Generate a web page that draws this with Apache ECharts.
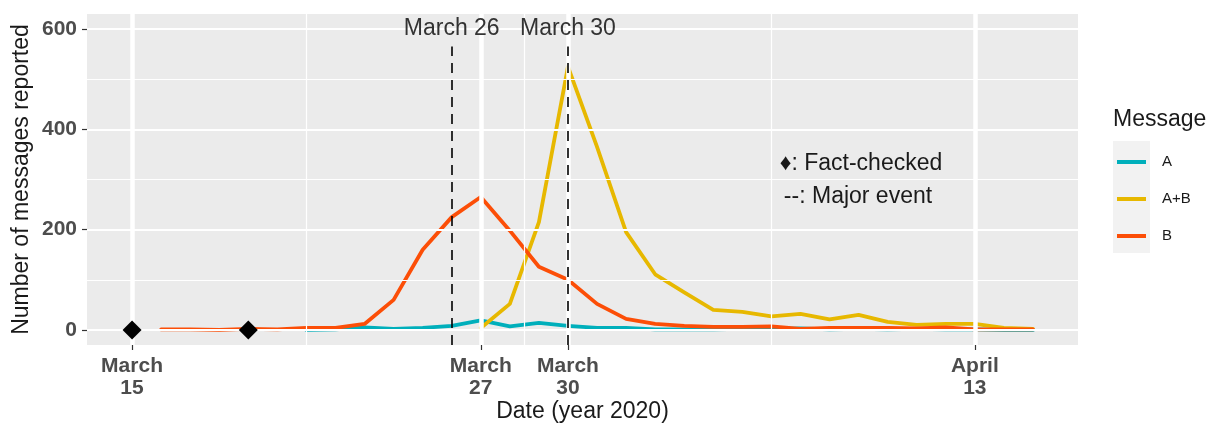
<!DOCTYPE html>
<html>
<head>
<meta charset="utf-8">
<script src="https://cdn.jsdelivr.net/npm/echarts@6/dist/echarts.min.js"></script>
<style>
  html, body { margin: 0; padding: 0; background: #ffffff; }
  #chart { width: 1214px; height: 425px; }
</style>
</head>
<body>
<div id="chart"></div>
<script>
// Days counted from March 15, 2020
const tickDays = [0, 12, 15, 29];
const tickLabels = ['March\n15', 'March\n27', 'March\n30', 'April\n13'];
const minorDays = [6, 13.5, 22];
const yTicks = [0, 200, 400, 600];
const yMinor = [100, 300, 500];

// Major events (dashed lines)
const eventDays = [11, 15];
const eventLabels = ['March 26', 'March 30'];

// Fact-check dates
const factCheckedDays = [0, 4];
const factCheckedValues = [0, 0];

// Message A
const daysA = [6, 7, 8, 9, 10, 11, 12, 13, 14, 15, 16, 17, 18, 19, 20, 21, 22, 23, 24, 25, 26, 27, 28, 29, 30, 31];
const valuesA = [0, 1, 5, 2, 4, 8, 19, 7, 14, 8, 4, 4, 1, 1, 1, 2, 2, 3, 1, 2, 1, 2, 1, 1, 0, 0];

// Message A+B
const daysAB = [12, 13, 14, 15, 16, 17, 18, 19, 20, 21, 22, 23, 24, 25, 26, 27, 28, 29, 30, 31];
const valuesAB = [4, 52, 215, 525, 365, 195, 111, 75, 40, 36, 27, 32, 21, 30, 16, 10, 12, 12, 4, 2];

// Message B
const daysB = [1, 2, 3, 4, 5, 6, 7, 8, 9, 10, 11, 12, 13, 14, 15, 16, 17, 18, 19, 20, 21, 22, 23, 24, 25, 26, 27, 28, 29, 30, 31];
const valuesB = [1, 1, 0, 2, 1, 4, 4, 12, 60, 160, 225, 265, 198, 126, 100, 52, 22, 12, 8, 6, 6, 7, 2, 4, 4, 4, 3, 5, 1, 1, 1];

const seriesNames = ['A', 'A+B', 'B'];
const seriesColors = ['#00AFBB', '#E7B800', '#FC4E07'];

const pairs = (xs, ys) => xs.map((x, i) => [x, ys[i]]);

const font = '"Liberation Sans", Arial, Helvetica, sans-serif';
const chart = echarts.init(document.getElementById('chart'), null, { renderer: 'canvas' });

function dataLine(name, color, data) {
  return {
    name: name,
    type: 'line',
    data: data,
    showSymbol: false,
    symbol: 'none',
    z: 3,
    lineStyle: { color: color, width: 3.8, cap: 'round', join: 'round' },
    itemStyle: { color: color },
    emphasis: { disabled: true },
    silent: true
  };
}

const option = {
  animation: false,
  textStyle: { fontFamily: font },
  grid: {
    left: 87, right: 136, top: 14, bottom: 80,
    containLabel: false,
    outerBoundsMode: 'none',
    show: true, backgroundColor: '#EBEBEB', borderWidth: 0
  },
  legend: {
    data: seriesNames,
    orient: 'vertical',
    left: 1117,
    top: 152,
    padding: 0,
    icon: 'rect',
    itemWidth: 29,
    itemHeight: 4,
    itemGap: 17,
    selectedMode: false,
    textStyle: { fontSize: 15, color: '#1a1a1a', lineHeight: 20, padding: [0, 0, 0, 11], fontFamily: font }
  },
  xAxis: {
    type: 'value',
    min: -1.55,
    max: 32.55,
    name: 'Date (year 2020)',
    nameLocation: 'middle',
    nameGap: 55,
    nameMoveOverlap: false,
    nameTextStyle: { fontSize: 23, color: '#1a1a1a', fontFamily: font },
    axisLine: { show: false, onZero: false },
    splitLine: { show: false },
    axisTick: {
      show: true, customValues: tickDays, length: 5,
      lineStyle: { color: '#333333', width: 1.2 }
    },
    axisLabel: {
      customValues: tickDays,
      formatter: (v) => tickLabels[tickDays.indexOf(v)],
      fontSize: 21, fontWeight: 'bold', color: '#4D4D4D', lineHeight: 22,
      margin: 10, fontFamily: font
    }
  },
  yAxis: {
    type: 'value',
    min: -30,
    max: 630,
    name: 'Number of messages reported',
    nameLocation: 'middle',
    nameGap: 54,
    nameMoveOverlap: false,
    nameTextStyle: { fontSize: 23, color: '#1a1a1a', fontFamily: font },
    axisLine: { show: false, onZero: false },
    splitLine: { show: false },
    axisTick: {
      show: true, customValues: yTicks, length: 5,
      lineStyle: { color: '#333333', width: 1.2 }
    },
    axisLabel: {
      customValues: yTicks,
      fontSize: 21, fontWeight: 'bold', color: '#4D4D4D',
      margin: 10, fontFamily: font
    }
  },
  graphic: [
    { type: 'rect', shape: { x: 1113, y: 141, width: 37, height: 112 }, style: { fill: '#F2F2F2' }, z: 0, silent: true },
    { type: 'text', x: 1113, y: 120, style: { text: 'Message', font: '23px ' + font, fill: '#1a1a1a', textVerticalAlign: 'middle' }, silent: true },
    { type: 'text', x: 861, y: 164, style: { text: '\u2666: Fact-checked', font: '23px ' + font, fill: '#1a1a1a', textAlign: 'center', textVerticalAlign: 'middle' }, z: 10, silent: true },
    { type: 'text', x: 858, y: 197, style: { text: '--: Major event', font: '23px ' + font, fill: '#1a1a1a', textAlign: 'center', textVerticalAlign: 'middle' }, z: 10, silent: true }
  ],
  series: [
    // Panel grid lines
    {
      name: 'grid',
      type: 'line',
      data: [],
      z: 1,
      silent: true,
      markLine: {
        silent: true,
        symbol: 'none',
        animation: false,
        label: { show: false },
        emphasis: { disabled: true },
        data: [
          ...yMinor.map(v => ({ yAxis: v, lineStyle: { color: '#ffffff', width: 1.2, type: 'solid' } })),
          ...minorDays.map(v => ({ xAxis: v, lineStyle: { color: '#ffffff', width: 1.2, type: 'solid' } })),
          ...yTicks.map(v => ({ yAxis: v, lineStyle: { color: '#ffffff', width: 2.2, type: 'solid' } })),
          ...tickDays.map(v => ({ xAxis: v, lineStyle: { color: '#ffffff', width: 4.5, type: 'solid' } }))
        ]
      }
    },
    dataLine(seriesNames[0], seriesColors[0], pairs(daysA, valuesA)),
    dataLine(seriesNames[1], seriesColors[1], pairs(daysAB, valuesAB)),
    dataLine(seriesNames[2], seriesColors[2], pairs(daysB, valuesB)),
    // Major events
    {
      name: 'events',
      type: 'line',
      data: [],
      z: 4,
      silent: true,
      markLine: {
        silent: true,
        symbol: 'none',
        animation: false,
        emphasis: { disabled: true },
        lineStyle: { color: '#000000', width: 1.6, type: [10, 7] },
        label: {
          show: true, position: 'end', distance: 6,
          fontSize: 23, color: '#333333', fontFamily: font,
          formatter: (p) => p.name
        },
        data: eventDays.map((d, i) => [
          { coord: [d, -30], name: eventLabels[i] },
          { coord: [d, 565] }
        ])
      }
    },
    // Fact-checked markers
    {
      name: 'Fact-checked',
      type: 'scatter',
      data: pairs(factCheckedDays, factCheckedValues),
      symbol: 'diamond',
      symbolSize: [19, 19],
      itemStyle: { color: '#000000', opacity: 1 },
      z: 5,
      silent: true
    }
  ]
};

chart.setOption(option);
</script>
</body>
</html>
